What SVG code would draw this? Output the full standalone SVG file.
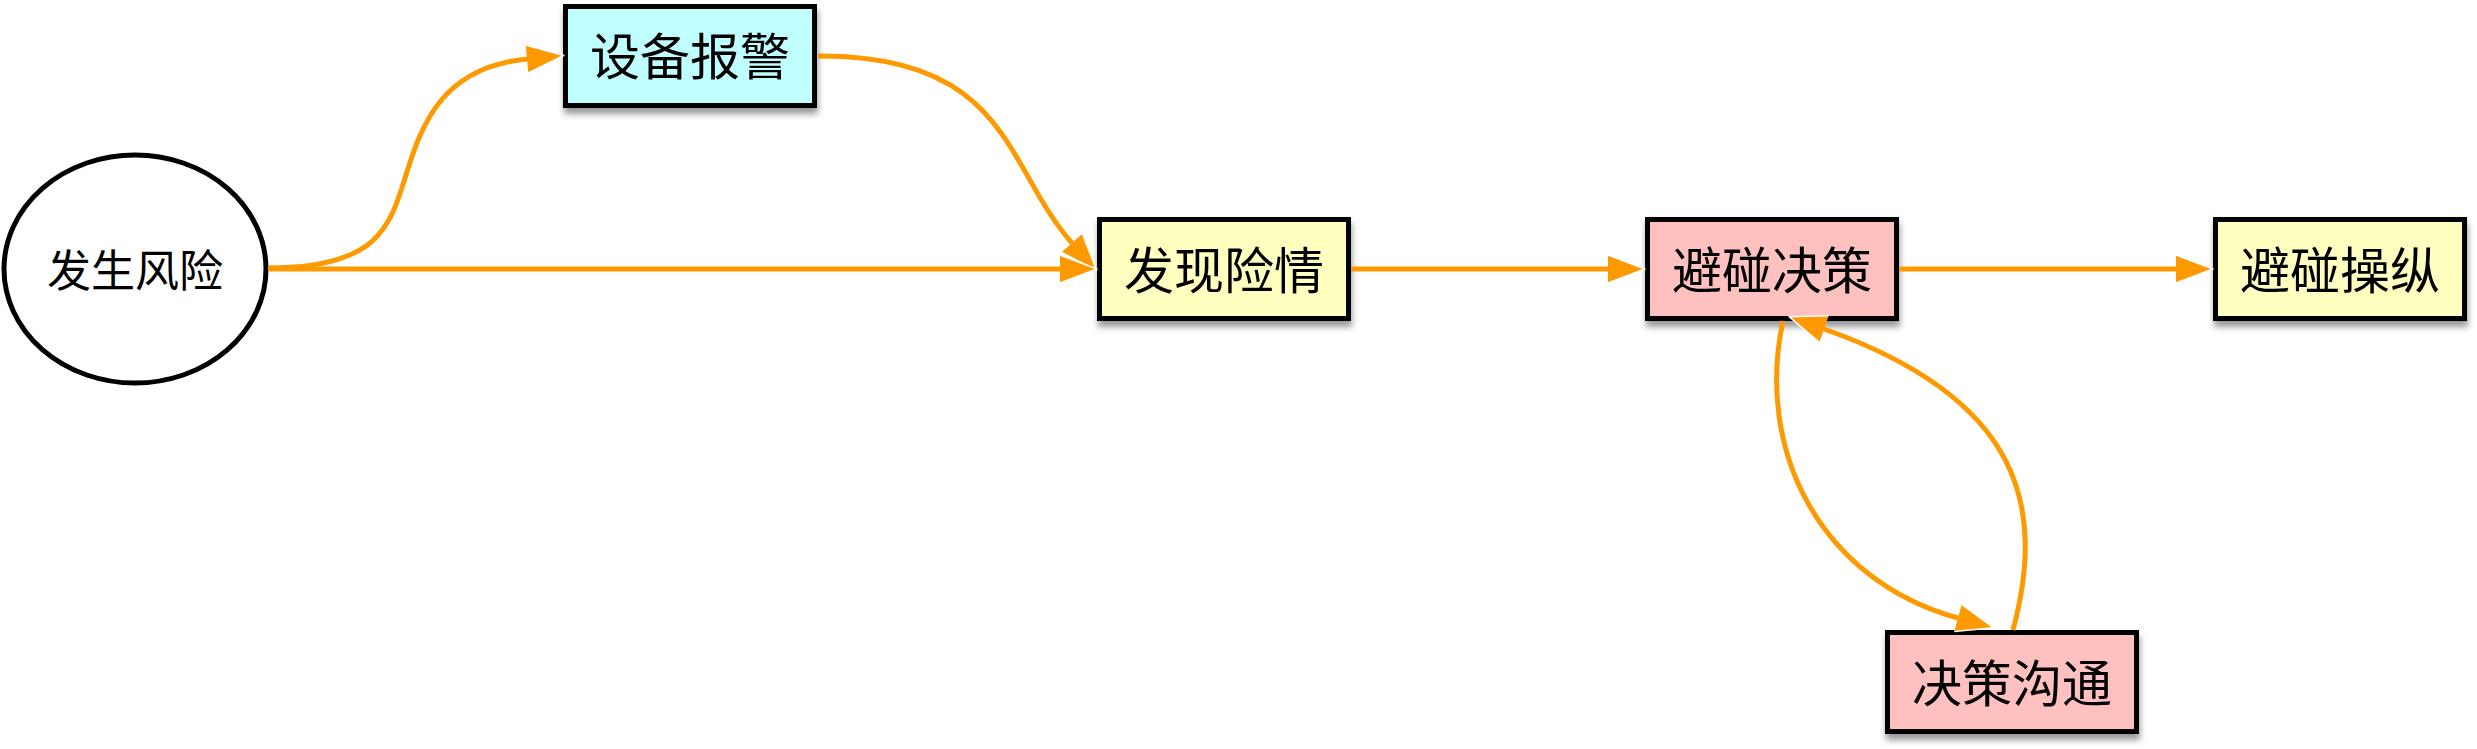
<svg xmlns="http://www.w3.org/2000/svg" width="2477" height="749" viewBox="0 0 2477 749">
  <style>
    .box { stroke: #000; stroke-width: 5; filter: url(#shadow); }
    .lbl { font-family: "Noto Sans CJK SC", "Noto Sans", sans-serif; font-size: 50px; fill: #000; text-anchor: middle; }
    .edge { fill: none; stroke: #FF9900; stroke-width: 5; marker-end: url(#arrow); }
  </style>
  <defs>
    <filter id="shadow" x="-10%" y="-20%" width="130%" height="150%">
      <feDropShadow dx="1" dy="6" stdDeviation="3" flood-color="#000" flood-opacity="0.4"/>
    </filter>
    <marker id="arrow" markerUnits="userSpaceOnUse" markerWidth="37" markerHeight="28" refX="0" refY="14" orient="auto" overflow="visible">
      <path d="M0,0 L37,14 L0,28" fill="#FF9900" stroke="#fff" stroke-width="1.5" stroke-linejoin="round"/>
    </marker>
  </defs>
  <rect width="2477" height="749" fill="#fff"/>

  <g id="node-fashengfengxian">
    <ellipse cx="135" cy="269" rx="131" ry="114" fill="#fff" stroke="#000" stroke-width="5"/>
    <text class="lbl" x="135" y="287" style="font-size:44px">发生风险</text>
  </g>
  <g id="node-shebeibaojing">
    <rect class="box" x="565.5" y="6.5" width="249" height="99" fill="#BFFFFF"/>
    <text class="lbl" x="690" y="75">设备报警</text>
  </g>
  <g id="node-faxianxianqing">
    <rect class="box" x="1099.5" y="219.5" width="249" height="99" fill="#FFFFC0"/>
    <text class="lbl" x="1224" y="289">发现险情</text>
  </g>
  <g id="node-bipengjuece">
    <rect class="box" x="1647.5" y="219.5" width="249" height="99" fill="#FFC0C0"/>
    <text class="lbl" x="1772" y="289">避碰决策</text>
  </g>
  <g id="node-bipengcaozong">
    <rect class="box" x="2215.5" y="219.5" width="249" height="99" fill="#FFFFC0"/>
    <text class="lbl" x="2340" y="289">避碰操纵</text>
  </g>
  <g id="node-juecegoutong">
    <rect class="box" x="1887.5" y="632.5" width="249" height="99" fill="#FFC0C0"/>
    <text class="lbl" x="2012" y="702">决策沟通</text>
  </g>

  <g id="connectors">
    <path class="edge" d="M268,268 C378,268 390,227 406,175 C422,123 443,67 527,59"/>
    <path class="edge" d="M818,56 C1010,55 1005,168 1072,243"/>
    <path class="edge" d="M268,269 H1060"/>
    <path class="edge" d="M1351,269 H1608"/>
    <path class="edge" d="M1899,269 H2176"/>
    <path class="edge" d="M1783,321 C1755,450 1820,580 1958,618"/>
    <path class="edge" d="M2013,630 C2045,510 2025,400 1824,329"/>
  </g>
</svg>
